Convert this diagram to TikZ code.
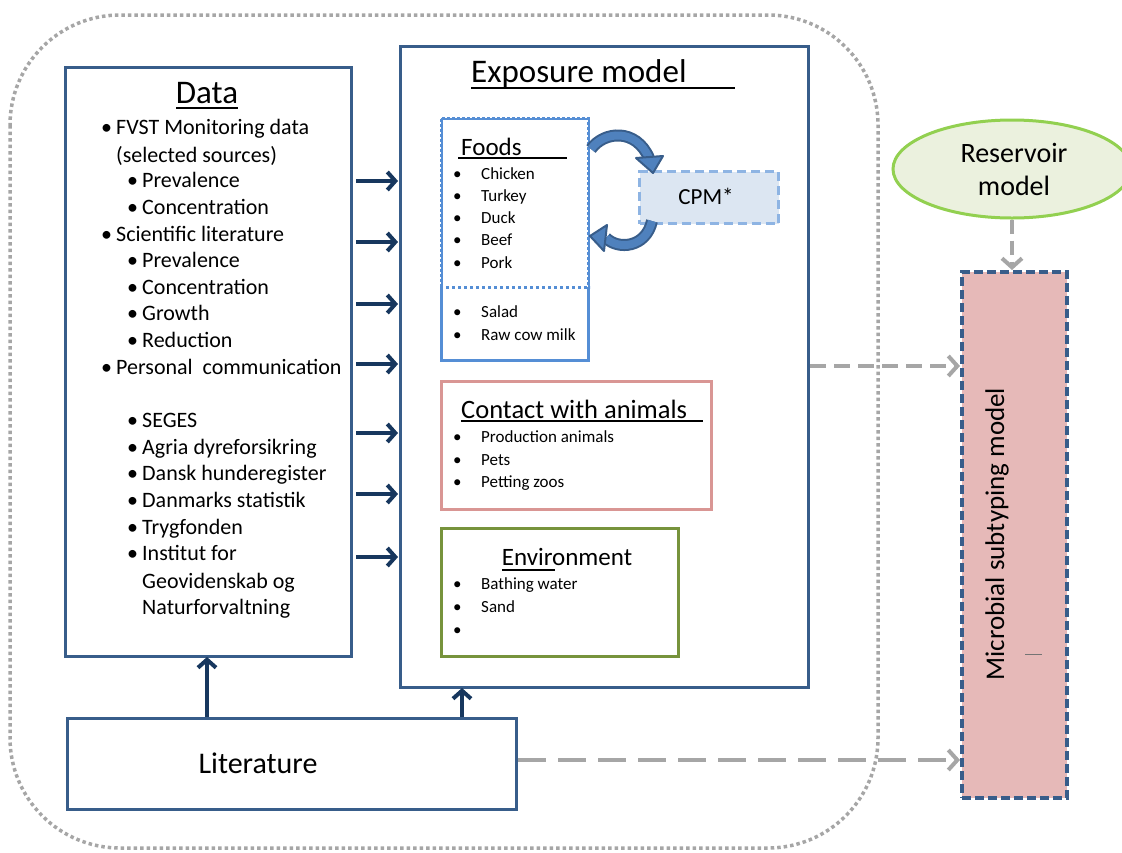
\documentclass[tikz,border=0pt]{standalone}
\usepackage{fontspec}
\setmainfont{Carlito}
\usetikzlibrary{arrows.meta,shapes.geometric}
\definecolor{boxblue}{HTML}{385D8A}
\definecolor{navy}{HTML}{17375E}
\definecolor{foodsblue}{HTML}{558ED5}
\definecolor{cpmfill}{HTML}{DCE6F2}
\definecolor{cpmline}{HTML}{8EB4E3}
\definecolor{arcfill}{HTML}{4F81BD}
\definecolor{arcline}{HTML}{385D8A}
\definecolor{pinkline}{HTML}{D99694}
\definecolor{greenline}{HTML}{77933C}
\definecolor{resfill}{HTML}{EBF1DE}
\definecolor{resline}{HTML}{92D050}
\definecolor{microfill}{HTML}{E6B9B8}
\definecolor{grayline}{HTML}{A6A6A6}
\begin{document}
\begin{tikzpicture}[x=1pt,y=-1pt,
  bigtxt/.style={anchor=base west, inner sep=0pt, yshift=-7.5pt, font=\fontsize{22}{26}\selectfont},
  smalltxt/.style={anchor=base west, inner sep=0pt, yshift=-6pt, font=\fontsize{17}{20}\selectfont},
  ttl/.style={anchor=base, inner sep=0pt, yshift=-0.33*#1, font=\fontsize{#1}{#1}\selectfont},
  ttlw/.style={anchor=base west, inner sep=0pt, yshift=-0.33*#1, font=\fontsize{#1}{#1}\selectfont},
  mainbox/.style={draw=boxblue, line width=3pt, fill=white},
  navyarrow/.style={draw=navy, line width=4pt, -{Straight Barb[length=8pt,width=18pt,line width=4pt]}},
  grayarrow/.style={draw=grayline, line width=4pt, dash pattern=on 16pt off 8pt, -{Straight Barb[length=9pt,width=20pt,line width=4pt]}},
]
\useasboundingbox (0,0) rectangle (1122,852);

% outer dotted frame
\draw[grayline, line width=3.5pt, dash pattern=on 3.5pt off 3pt, rounded corners=110pt] (10,15) rectangle (878,848);

% Data box
\node[mainbox, minimum width=286pt, minimum height=589pt, anchor=north west] (data) at (64,66) {};
\node[ttl=33pt] (datat) at (207,93) {Data};
\draw[black, line width=2pt] (176,108) -- (238,108);
\newcommand{\bl}{\makebox[15pt][l]{•}}
\node[bigtxt] (d1) at (101,127) {\bl FVST Monitoring data};
\node[bigtxt] (d2) at (116,155) {(selected sources)};
\node[bigtxt] (d3) at (127,180) {\bl Prevalence};
\node[bigtxt] (d4) at (127,207) {\bl Concentration};
\node[bigtxt] (d5) at (101,234) {\bl Scientific literature};
\node[bigtxt] (d6) at (127,260) {\bl Prevalence};
\node[bigtxt] (d7) at (127,287) {\bl Concentration};
\node[bigtxt] (d8) at (127,313) {\bl Growth};
\node[bigtxt] (d9) at (127,340) {\bl Reduction};
\node[bigtxt] (d10) at (101,367) {\bl Personal\ \ communication};
\node[bigtxt] (d11) at (127,420) {\bl SEGES};
\node[bigtxt] (d12) at (127,447) {\bl Agria dyreforsikring};
\node[bigtxt] (d13) at (127,473) {\bl Dansk hunderegister};
\node[bigtxt] (d14) at (127,500) {\bl Danmarks statistik};
\node[bigtxt] (d15) at (127,527) {\bl Trygfonden};
\node[bigtxt] (d16) at (127,553) {\bl Institut for};
\node[bigtxt] (d17) at (142,581) {Geovidenskab og};
\node[bigtxt] (d18) at (142,607) {Naturforvaltning};

% Exposure model box
\node[mainbox, minimum width=408pt, minimum height=641pt, anchor=north west] (expo) at (399,45) {};
\node[ttlw=33pt] (expot) at (471,72) {Exposure model};
\draw[black, line width=2pt] (471,88) -- (735,88);

% Foods box
\node[draw=foodsblue, line width=3pt, minimum width=147pt, minimum height=242pt, anchor=north west] (foods) at (440,117) {};
\draw[white, line width=1.2pt, dash pattern=on 2pt off 3pt] (440,117) -- (587,117) -- (587,287) (440,117) -- (440,287);
\draw[foodsblue, line width=3pt, dash pattern=on 3pt off 3pt] (foods.west |- 0,287) coordinate (fsepl) -- (foods.east |- 0,287) coordinate (fsepr);
\node[ttlw=25pt] (foodst) at (461,147) {Foods};
\draw[black, line width=2pt] (458,158) -- (567,158);
\newcommand{\sbl}{\makebox[28pt][l]{•}}
\node[smalltxt] (f1) at (453,173) {\sbl Chicken};
\node[smalltxt] (f2) at (453,195) {\sbl Turkey};
\node[smalltxt] (f3) at (453,217) {\sbl Duck};
\node[smalltxt] (f4) at (453,239) {\sbl Beef};
\node[smalltxt] (f5) at (453,262) {\sbl Pork};
\node[smalltxt] (f6) at (453,311) {\sbl Salad};
\node[smalltxt] (f7) at (453,334) {\sbl Raw cow milk};

% CPM
\node[draw=cpmline, fill=cpmfill, line width=3pt, dash pattern=on 9pt off 5pt, minimum width=139pt, minimum height=52pt, anchor=north west] (cpm) at (638,170) {};
\node[ttl=23pt] (cpmt) at (706,197) {CPM*};

% curved arrows
\draw[arcline, line width=12pt] (591,149) .. controls (604,131) and (636,128) .. (649,158);
\draw[arcfill, line width=8pt] (591,149) .. controls (604,131) and (636,128) .. (649,158);
\filldraw[fill=arcfill, draw=arcline, line width=2pt, line join=round] (636,158) -- (663,156) -- (653,173) -- cycle;
\draw[arcline, line width=12pt] (652,221) .. controls (646,248) and (618,250) .. (606,238);
\draw[arcfill, line width=8pt] (652,221) .. controls (646,248) and (618,250) .. (606,238);
\filldraw[fill=arcfill, draw=arcline, line width=2pt, line join=round] (607,225) -- (604,251) -- (590,236) -- cycle;

% Contact with animals
\node[draw=pinkline, line width=3pt, minimum width=270pt, minimum height=128pt, anchor=north west] (contact) at (440,380) {};
\node[ttlw=26.5pt] (contactt) at (461,410) {Contact with animals};
\draw[black, line width=2pt] (461,421) -- (703,421);
\node[smalltxt] (c1) at (453,436) {\sbl Production animals};
\node[smalltxt] (c2) at (453,459) {\sbl Pets};
\node[smalltxt] (c3) at (453,481) {\sbl Petting zoos};

% Environment
\node[draw=greenline, line width=3pt, minimum width=237pt, minimum height=128pt, anchor=north west] (env) at (440,527) {};
\node[ttl=25pt] (envt) at (567,557) {Environment};
\draw[black, line width=2pt] (502,570) -- (555,570);
\node[smalltxt] (e1) at (453,583) {\sbl Bathing water};
\node[smalltxt] (e2) at (453,606) {\sbl Sand};
\node[smalltxt] (e3) at (453,629) {\sbl};

% Literature
\node[mainbox, minimum width=449pt, minimum height=91pt, anchor=north west] (lit) at (66,717) {};
\node[ttl=30pt] (litt) at (258,764) {Literature};

% Reservoir model
\node[ellipse, draw=resline, fill=resfill, line width=3pt, minimum width=238pt, minimum height=98pt] (res) at (1012,169) {};
\node[align=center, inner sep=0pt, font=\fontsize{28}{33}\selectfont] (rest) at (1014,169) {Reservoir\\model};

% Microbial subtyping model
\node[draw=boxblue, fill=microfill, line width=3.5pt, dash pattern=on 9pt off 4pt, minimum width=105pt, minimum height=526pt, anchor=north west] (micro) at (960,270) {};
\node[inner sep=0pt, rotate=90, font=\fontsize{27}{32}\selectfont] (microt) at (997,534) {Microbial subtyping model};
\draw[grayline!70!black, line width=0.6pt] (1025,654) -- (1042,654);

% navy arrows Data -> Exposure
\foreach \yy/\nm in {181/a1,242/a2,304/a3,364/a4,433/a5,494/a6,557/a7}{
  \coordinate (\nm s) at (data.east |- 0,\yy);
  \coordinate (\nm e) at (expo.west |- 0,\yy);
  \draw[navyarrow] ([xshift=3pt]\nm s) -- ([xshift=-1pt]\nm e);
}
% up arrows
\draw[navyarrow] (lit.north -| 207,0) -- ([yshift=1pt]data.south -| 207,0);
\draw[navyarrow] (lit.north -| 462,0) -- ([yshift=1pt]expo.south -| 462,0);

% gray dashed arrows
\draw[grayarrow] (expo.east |- 0,366) -- (micro.west |- 0,366);
\draw[grayarrow, dash pattern=on 28pt off 12pt] (lit.east |- 0,760) -- (micro.west |- 0,760);
\draw[grayarrow, dash pattern=on 14pt off 7pt] (res.south) -- (micro.north -| res.south);
\end{tikzpicture}
\end{document}
